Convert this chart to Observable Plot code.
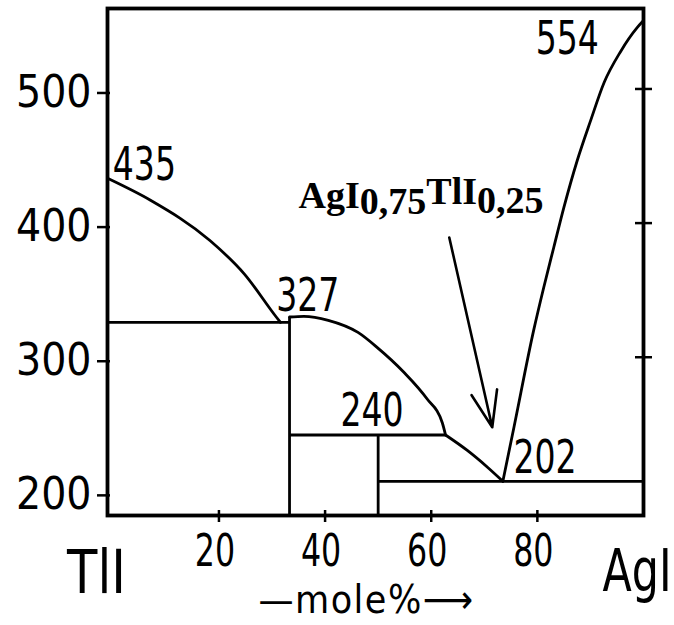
<!DOCTYPE html>
<html>
<head>
<meta charset="utf-8">
<script src="https://cdn.jsdelivr.net/npm/d3@7"></script>
<script src="https://cdn.jsdelivr.net/npm/@observablehq/plot@0.6"></script>
<style>
  html, body { margin: 0; padding: 0; background: #fff; }
  #chart svg { display: block; }
</style>
</head>
<body>
<div id="chart"></div>
<script>
// ---- data (x = mole % AgI, T = temperature °C) ----
const xTicks = [20, 40, 60, 80];
const yTicks = [200, 300, 400, 500];
const yTicksRight = [300, 400, 500];

// liquidus TlI side (435 -> ~326)
const leftX = [-0.8, 7.1, 18.3, 24.8, 30.8, 31.6];
const leftT = [433, 417, 387, 362, 330, 326];
// compound dome (327) down to the 240 line
const peakX = [33.3, 36, 40.6, 46.2, 49.9, 54.8, 59.2, 62.1, 62.7];
const peakT = [330, 330.5, 327.5, 318.5, 307, 289, 269, 251, 242];
// from the 240 line down to the eutectic 202
const lowX = [62.7, 66.8, 70.6, 73.5];
const lowT = [242, 230.5, 218, 207.5];
// AgI liquidus (eutectic up to 554)
const rightX = [73.5, 75.6, 79.3, 81.2, 83.1, 85, 87.5, 90, 92.6, 95.7, 98.8, 100];
const rightT = [207.5, 248, 320, 352, 382, 411.7, 446.5, 476, 505, 528, 545.7, 551];

// horizontal and vertical phase boundaries
const segX1 = [-1, 33.3, 33.3, 50, 50];
const segT1 = [326, 182, 242, 182, 207.5];
const segX2 = [33.3, 33.3, 62.7, 50, 100];
const segT2 = [326, 330, 242, 242, 207.5];

// temperature annotations (left edge / baseline of the number)
const annLabels = ["435", "327", "240", "202", "554"];
const annX = [0, 30.8, 42.9, 75.5, 79.7];
const annT = [431.8, 334.8, 249.1, 214, 526.4];

// compound label and its arrow
const compParts = ["AgI", "0,75", "TlI", "0,25"];
const compX = [35.0];
const compT = [411.6];
const arrowX1 = [63.4], arrowT1 = [389.3], arrowX2 = [71.5], arrowT2 = [247.8];

// end members and axis title
const endLabels = ["TlI", "AgI"];
const endX = [0, 100];
const axisTitle = ["—mole%⟶"];

const xDomain = [-1, 100];
const yDomain = [182, 560];

// ---- build tables ----
const toPts = (xs, ts) => xs.map((x, i) => ({x, T: ts[i]}));
const curves = [toPts(leftX, leftT), toPts(peakX, peakT), toPts(lowX, lowT), toPts(rightX, rightT)];
const segs = segX1.map((x1, i) => ({x1, y1: segT1[i], x2: segX2[i], y2: segT2[i]}));
const anns = annLabels.map((t, i) => ({t, x: annX[i], T: annT[i]}));
const compLabel = compParts.join("");

const numFont = "'DejaVu Sans Condensed', 'DejaVu Sans', sans-serif";
const lw = 2.8;

const plot = Plot.plot({
  width: 674,
  height: 625,
  marginLeft: 107,
  marginRight: 31,
  marginTop: 8,
  marginBottom: 110,
  style: {background: "#fff", color: "#000", fontFamily: numFont},
  x: {domain: xDomain, ticks: xTicks, label: null},
  y: {domain: yDomain, ticks: yTicks, label: null},
  marks: [
    Plot.frame({stroke: "#000", strokeWidth: 3.8}),
    Plot.axisX(xTicks, {tickSize: 12, dy: -5, tickPadding: 12, fontSize: 44, fontFamily: numFont, label: null, strokeWidth: 2.5}),
    Plot.axisY(yTicks, {anchor: "left", tickSize: 13, dx: 3, dy: 4, tickPadding: 6, fontSize: 44, fontFamily: numFont, label: null, strokeWidth: 2.5}),
    Plot.axisY(yTicksRight, {anchor: "right", tickSize: 17, dx: -9, tickFormat: () => "", label: null, strokeWidth: 2.5}),
    ...curves.map(c => Plot.line(c, {x: "x", y: "T", curve: "monotone-x", stroke: "#000", strokeWidth: lw})),
    Plot.link(segs, {x1: "x1", y1: "y1", x2: "x2", y2: "y2", stroke: "#000", strokeWidth: lw}),
    Plot.text(anns, {x: "x", y: "T", text: "t", textAnchor: "start", lineAnchor: "bottom", fontSize: 46, fontFamily: numFont, fill: "#000"}),
    Plot.text([compLabel], {x: () => compX[0], y: () => compT[0], text: d => d, textAnchor: "start", lineAnchor: "bottom", fontSize: 38, fontWeight: "bold", fontFamily: "'Liberation Serif', 'Times New Roman', serif", fill: "#000"}),
    Plot.arrow([0], {x1: () => arrowX1[0], y1: () => arrowT1[0], x2: () => arrowX2[0], y2: () => arrowT2[0], stroke: "#000", strokeWidth: 2.6, headLength: 22, headAngle: 40}),
    Plot.text([endLabels[0]], {x: () => endX[0], frameAnchor: "bottom", text: d => d, textAnchor: "end", lineAnchor: "bottom", dy: 77, dx: 13, fontSize: 60, fontFamily: numFont, fill: "#000"}),
    Plot.text([endLabels[1]], {x: () => endX[1], frameAnchor: "bottom", text: d => d, textAnchor: "start", lineAnchor: "bottom", dy: 75, dx: -41, fontSize: 58, fontFamily: numFont, fill: "#000"}),
    Plot.text(axisTitle, {frameAnchor: "bottom", text: d => d, lineAnchor: "bottom", dy: 97, dx: -9, fontSize: 39, fontFamily: numFont, fill: "#000"})
  ]
});

// narrow the glyphs horizontally around their anchor (reference uses a narrow DIN-like face)
function squeeze(el, s, shift = 0) {
  const t = el.getAttribute("transform") || "";
  el.setAttribute("transform", `${t} translate(${shift},0) scale(${s},1)`);
}

plot.querySelectorAll("text").forEach(el => {
  const txt = el.textContent;
  const g = el.closest("g[aria-label]");
  const role = g ? g.getAttribute("aria-label") : "";
  if (txt === compLabel) {
    // rebuild the compound label with lowered/raised parts
    el.textContent = "";
    const shifts = [0, 6, -10, 9];
    compParts.forEach((p, i) => {
      const ts = document.createElementNS("http://www.w3.org/2000/svg", "tspan");
      ts.setAttribute("dy", shifts[i]);
      ts.textContent = p;
      el.appendChild(ts);
    });
  } else if (role === "x-axis tick label") {
    squeeze(el, 0.8, -4);
  } else if (annLabels.includes(txt)) {
    squeeze(el, 0.8);
  } else if (txt === endLabels[0]) {
    squeeze(el, 0.92);
  } else if (txt === endLabels[1]) {
    squeeze(el, 0.82);
  } else if (txt === axisTitle[0]) {
    el.setAttribute("letter-spacing", "1.5");
  }
});

document.getElementById("chart").appendChild(plot);
</script>
</body>
</html>
